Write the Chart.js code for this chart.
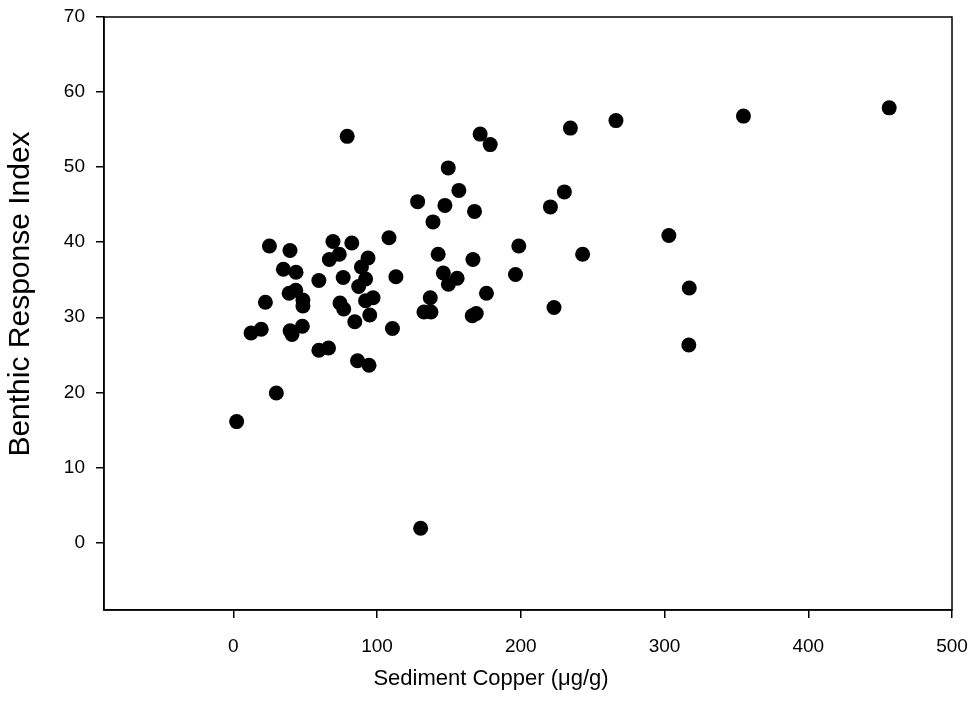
<!DOCTYPE html>
<html>
<head>
<meta charset="utf-8">
<title>Benthic Response Index vs Sediment Copper</title>
<script src="https://cdn.jsdelivr.net/npm/chart.js@4.4.1/dist/chart.umd.min.js"></script>
<style>
  html, body { margin: 0; padding: 0; background: #fff; }
  #wrap { width: 972px; height: 715px; }
</style>
</head>
<body>
<div id="wrap"><canvas id="chart" width="972" height="715"></canvas></div>
<script>
'use strict';

// ── Data ──────────────────────────────────────────────────────
const copper = [
  2.3, 12.3, 19.4, 22.3, 25.1, 29.9, 34.8, 38.8, 39.4, 39.5,
  40.8, 43.4, 43.6, 48.0, 48.4, 48.4, 59.5, 59.5, 66.2, 66.8,
  69.3, 73.7, 74.2, 76.4, 76.8, 79.2, 82.4, 84.5, 86.4, 87.2,
  89.1, 92.0, 92.0, 93.7, 94.4, 94.9, 97.2, 108.3, 110.7, 113.1,
  128.2, 130.3, 132.6, 137.5, 137.0, 138.9, 142.5, 146.1, 147.2, 149.5,
  149.6, 155.7, 156.9, 166.2, 169.0, 166.7, 167.8, 171.7, 176.1, 178.7,
  196.3, 198.6, 220.6, 223.1, 230.3, 234.5, 243.0, 266.2, 303.0, 317.2,
  316.9, 354.9, 456.3
];
const bri = [
  16.1, 27.9, 28.4, 32.0, 39.5, 19.9, 36.4, 33.2, 38.9, 28.2,
  27.7, 33.6, 36.0, 28.8, 32.3, 31.5, 34.9, 25.6, 25.9, 37.7,
  40.1, 38.4, 31.9, 35.3, 31.1, 54.1, 39.9, 29.4, 24.2, 34.1,
  36.7, 35.1, 32.2, 37.9, 23.6, 30.3, 32.6, 40.6, 28.5, 35.4,
  45.4, 1.9, 30.7, 30.7, 32.6, 42.7, 38.4, 35.9, 44.9, 49.9,
  34.4, 35.2, 46.9, 30.2, 30.5, 37.7, 44.1, 54.4, 33.2, 53.0,
  35.7, 39.5, 44.7, 31.3, 46.7, 55.2, 38.4, 56.2, 40.9, 33.9,
  26.3, 56.8, 57.9
];
const xTickValues = [0, 100, 200, 300, 400, 500];
const yTickValues = [0, 10, 20, 30, 40, 50, 60, 70];
const xTitle = 'Sediment Copper (\u03bcg/g)';
const yTitle = 'Benthic Response Index';

const FONT = 'Liberation Sans, Arial, Helvetica, sans-serif';

// Plot box on all four sides + axis titles (the originals sit off-centre)
const frameAndTitles = {
  id: 'frameAndTitles',
  afterDatasetsDraw(chart) {
    const { ctx, chartArea: a } = chart;
    ctx.save();
    ctx.strokeStyle = '#000';
    ctx.lineWidth = 1.5;
    ctx.strokeRect(a.left, a.top, a.right - a.left, a.bottom - a.top);
    ctx.restore();
  },
  afterDraw(chart) {
    const { ctx, chartArea: a } = chart;
    ctx.save();
    ctx.fillStyle = '#000';
    ctx.textAlign = 'center';
    ctx.textBaseline = 'middle';
    ctx.font = `22px ${FONT}`;
    ctx.fillText(xTitle, a.left + 387, a.bottom + 69);
    ctx.translate(21, a.top + 277);
    ctx.rotate(-Math.PI / 2);
    ctx.font = `30px ${FONT}`;
    ctx.fillText(yTitle, 0, 0);
    ctx.restore();
  }
};

new Chart(document.getElementById('chart').getContext('2d'), {
  type: 'scatter',
  data: {
    datasets: [{
      label: 'Sites',
      data: copper.map((x, i) => ({ x, y: bri[i] })),
      backgroundColor: '#000',
      borderColor: '#000',
      borderWidth: 0,
      pointRadius: 7.5,
      pointHoverRadius: 7.5
    }]
  },
  options: {
    responsive: false,
    animation: false,
    layout: { padding: { top: 17, right: 20, bottom: 0, left: 0 } },
    plugins: { legend: { display: false }, tooltip: { enabled: false } },
    scales: {
      x: {
        type: 'linear',
        min: -90, max: 500,
        afterBuildTicks: s => { s.ticks = xTickValues.map(value => ({ value })); },
        // fixed height, and ignore label overhang so the plot box lines up
        afterFit: s => { s.height = 105; s.paddingLeft = 0; s.paddingRight = 0; },
        grid: { drawOnChartArea: false, drawTicks: true, tickLength: 8, color: '#000', lineWidth: 1.5 },
        border: { display: true, color: '#000', width: 1.5 },
        ticks: { color: '#000', padding: 17, maxRotation: 0, font: { family: FONT, size: 19 } },
        title: { display: false }
      },
      y: {
        type: 'linear',
        min: -9, max: 70,
        afterBuildTicks: s => { s.ticks = yTickValues.map(value => ({ value })); },
        afterFit: s => { s.width = 104; s.paddingTop = 0; s.paddingBottom = 0; },
        grid: { drawOnChartArea: false, drawTicks: true, tickLength: 8, color: '#000', lineWidth: 1.5 },
        border: { display: true, color: '#000', width: 1.5 },
        ticks: { color: '#000', padding: 11, font: { family: FONT, size: 19 } },
        title: { display: false }
      }
    }
  },
  plugins: [frameAndTitles]
});
</script>
</body>
</html>
